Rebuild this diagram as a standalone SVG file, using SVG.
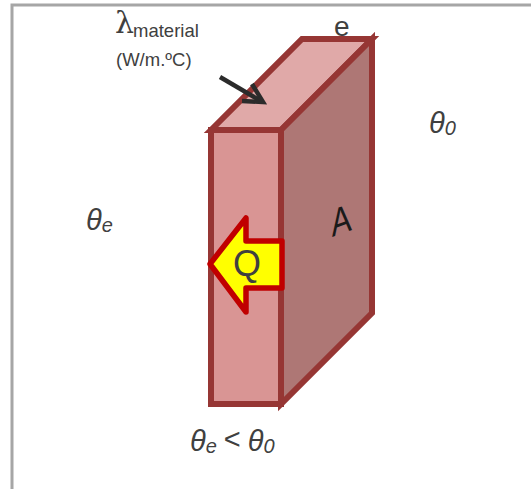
<svg xmlns="http://www.w3.org/2000/svg" width="531" height="489" viewBox="0 0 531 489">
<style>
text{font-family:"Liberation Sans",Arial,sans-serif;fill:#404040}
.th{font-style:italic;font-size:29px}
.sub{font-style:italic;font-size:20px}
.edge{stroke:#963634;stroke-width:6;stroke-linejoin:miter}
</style>
<rect width="531" height="489" fill="#fff"/>
<path d="M12 489V5H531" fill="none" stroke="#a6a6a6" stroke-width="3"/>
<g id="block">
<polygon class="edge" points="211,130 302,39 372,39 281,130" fill="#e0a9a8"/>
<polygon class="edge" points="281,130 372,39 372,313 281,404" fill="#ae7775"/>
<rect class="edge" x="211" y="130" width="70" height="274" fill="#d99594"/>
</g>
<g id="heat-arrow">
<polygon points="210,264 246,218 246,241 282,241 282,288 246,288 246,312" fill="#ff0" stroke="#c00000" stroke-width="5.500" stroke-linejoin="round"/>
<text x="247" y="276" font-size="36" text-anchor="middle">Q</text>
</g>
<g id="connectors">
<path d="M220 77L259 100" stroke="#2b2b2b" stroke-width="4.500" fill="none"/>
<path d="M252 84L263 102L242 101" stroke="#2b2b2b" stroke-width="4.500" fill="none"/>
</g>
<g id="labels">
<text x="115" y="33" style="font-family:'DejaVu Serif',serif" font-size="30">λ</text>
<text x="133" y="37" font-size="18.500">material</text>
<text x="116" y="66" font-size="18.500">(W/m.ºC)</text>
<text x="334" y="36" font-size="28">e</text>
<text x="429" y="133" class="th">θ<tspan class="sub" dy="2">0</tspan></text>
<text x="86" y="230" class="th">θ<tspan class="sub" dy="2">e</tspan></text>
<text x="190" y="451" class="th">θ<tspan class="sub" dy="2">e</tspan><tspan dy="-4" font-style="normal" dx="7">&lt;</tspan><tspan dx="7" dy="2">θ</tspan><tspan class="sub" dy="2">0</tspan></text>
<text font-size="32" fill="#111" style="fill:#1a1a1a" transform="matrix(.94,-.33,.09,1.2,332,237)">A</text>
</g>
</svg>
